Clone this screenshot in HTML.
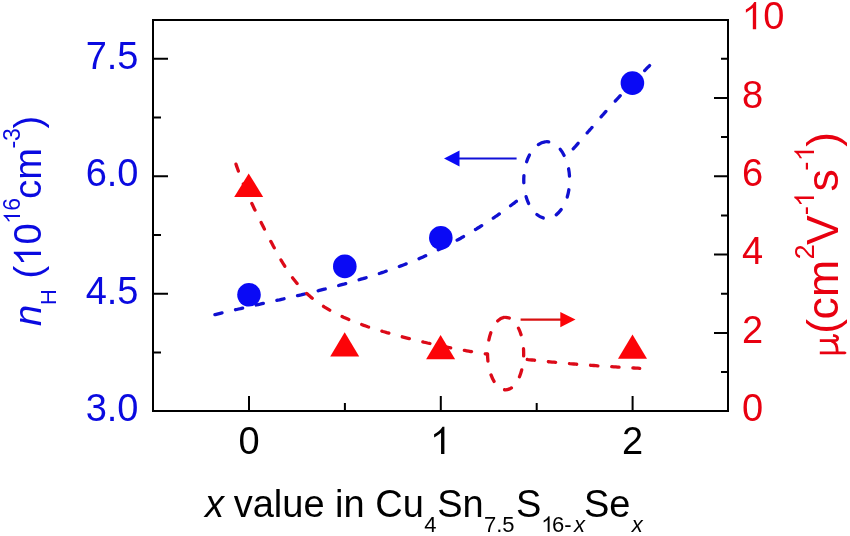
<!DOCTYPE html>
<html><head><meta charset="utf-8"><style>
html,body{margin:0;padding:0;background:#fff;}
body{width:850px;height:536px;overflow:hidden;}
svg{display:block;will-change:transform;}
text{font-family:"Liberation Sans",sans-serif;}
</style></head><body>
<svg width="850" height="536" viewBox="0 0 850 536">
<rect x="0" y="0" width="850" height="536" fill="#fff"/>
<g fill="none" stroke-width="3.3" stroke-dasharray="7.3 13.9" stroke-dashoffset="-1.65" stroke-linecap="round">
<path d="M213.3,315.0 L215.3,314.6 L217.2,314.1 L219.2,313.6 L221.1,313.1 L223.0,312.7 L225.0,312.2 L226.9,311.7 L228.9,311.3 L230.8,310.8 L232.8,310.4 L234.7,309.9 L236.7,309.5 L238.6,309.0 L240.6,308.6 L242.5,308.1 L244.5,307.7 L246.4,307.2 L248.4,306.8 L250.3,306.4 L252.3,305.9 L254.2,305.5 L256.2,305.0 L258.1,304.6 L260.1,304.2 L262.0,303.7 L264.0,303.3 L265.9,302.8 L267.9,302.4 L269.8,302.0 L271.8,301.5 L273.7,301.1 L275.7,300.7 L277.6,300.2 L279.6,299.8 L281.5,299.3 L283.5,298.9 L285.4,298.4 L287.4,298.0 L289.3,297.6 L291.3,297.1 L293.2,296.7 L295.2,296.2 L297.1,295.8 L299.1,295.3 L301.0,294.9 L303.0,294.4 L304.9,293.9 L306.9,293.5 L308.8,293.0 L310.8,292.5 L312.7,292.1 L314.7,291.6 L316.6,291.1 L318.5,290.7 L320.5,290.2 L322.4,289.7 L324.4,289.2 L326.3,288.7 L328.2,288.2 L330.2,287.7 L332.1,287.2 L334.1,286.7 L336.0,286.2 L337.9,285.7 L339.9,285.2 L341.8,284.7 L343.7,284.2 L345.6,283.6 L347.6,283.1 L349.5,282.6 L351.4,282.0 L353.3,281.5 L355.3,280.9 L357.2,280.4 L359.1,279.8 L361.0,279.2 L362.9,278.7 L364.9,278.1 L366.8,277.5 L368.7,276.9 L370.6,276.3 L372.5,275.7 L374.4,275.1 L376.3,274.5 L378.2,273.9 L380.1,273.3 L382.0,272.6 L383.9,272.0 L385.8,271.3 L387.7,270.7 L389.6,270.0 L391.5,269.4 L393.3,268.7 L395.2,268.0 L397.1,267.3 L399.0,266.6 L400.9,265.9 L402.7,265.2 L404.6,264.5 L406.5,263.8 L408.3,263.0 L410.2,262.3 L412.0,261.5 L413.9,260.8 L415.7,260.0 L417.6,259.3 L419.4,258.5 L421.2,257.7 L423.1,256.9 L424.9,256.1 L426.7,255.3 L428.6,254.4 L430.4,253.6 L432.2,252.8 L434.0,251.9 L435.8,251.0 L437.6,250.2 L439.4,249.3 L441.2,248.4 L443.0,247.5 L444.8,246.6 L446.6,245.7 L448.3,244.8 L450.1,243.9 L451.9,243.0 L453.7,242.0 L455.4,241.1 L457.2,240.1 L458.9,239.2 L460.7,238.2 L462.4,237.2 L464.2,236.2 L465.9,235.2 L467.6,234.2 L469.3,233.2 L471.1,232.2 L472.8,231.2 L474.5,230.1 L476.2,229.1 L477.9,228.0 L479.6,227.0 L481.3,225.9 L483.0,224.8 L484.7,223.8 L486.3,222.7 L488.0,221.6 L489.7,220.5 L491.4,219.4 L493.0,218.2 L494.7,217.1 L496.3,216.0 L498.0,214.9 L499.6,213.7 L501.2,212.5 L502.9,211.4 L504.5,210.2 L506.1,209.0 L507.7,207.9 L509.3,206.7 L510.9,205.5 L512.5,204.3 L514.1,203.1 L515.7,201.8 L517.3,200.6 L518.8,199.4 L520.4,198.1 L522.0,196.9 L523.5,195.6 L525.1,194.4 L526.6,193.1 L528.2,191.8 L529.7,190.5 L531.2,189.3 L532.8,188.0 L534.3,186.7 L535.8,185.3 L537.3,184.0 L538.8,182.7 L540.3,181.4 L541.8,180.0 L543.3,178.7 L544.7,177.4 L546.2,176.0 L547.7,174.6 L549.1,173.3 L550.6,171.9 L552.0,170.5 L553.5,169.1 L554.9,167.7 L556.3,166.3 L557.8,164.9 L559.2,163.5 L560.6,162.1 L562.0,160.7 L563.4,159.2 L564.8,157.8 L566.1,156.3 L567.5,154.9 L568.9,153.4 L570.3,152.0 L571.6,150.5 L573.0,149.0 L574.3,147.6 L575.7,146.1 L577.0,144.6 L578.3,143.1 L579.6,141.6 L581.0,140.1 L582.3,138.6 L583.6,137.1 L584.9,135.6 L586.2,134.1 L587.5,132.5 L588.8,131.0 L590.2,129.5 L591.5,128.0 L592.8,126.5 L594.1,125.0 L595.4,123.5 L596.7,122.0 L598.0,120.4 L599.3,118.9 L600.6,117.4 L601.9,115.9 L603.3,114.4 L604.6,112.9 L605.9,111.4 L607.2,109.9 L608.6,108.4 L609.9,106.9 L611.2,105.5 L612.6,104.0 L613.9,102.5 L615.3,101.0 L616.6,99.6 L618.0,98.1 L619.4,96.6 L620.7,95.2 L622.1,93.7 L623.5,92.3 L624.9,90.8 L626.2,89.4 L627.6,87.9 L629.0,86.5 L630.4,85.0 L631.8,83.6 L633.2,82.2 L634.6,80.7 L636.0,79.3 L637.4,77.9 L638.8,76.5 L640.2,75.0 L641.6,73.6 L643.0,72.2 L644.4,70.8 L645.8,69.4 L647.2,67.9 L648.7,66.5 L649.6,65.6" stroke="#1010D0"/>
<path d="M235.5,162.6 L236.1,164.5 L236.7,166.4 L237.4,168.3 L238.1,170.2 L238.7,172.1 L239.4,174.0 L240.1,175.8 L240.8,177.7 L241.6,179.6 L242.3,181.4 L243.0,183.3 L243.8,185.1 L244.6,187.0 L245.3,188.8 L246.1,190.7 L246.9,192.5 L247.7,194.3 L248.5,196.2 L249.3,198.0 L250.2,199.8 L251.0,201.6 L251.8,203.4 L252.7,205.3 L253.5,207.1 L254.4,208.9 L255.3,210.7 L256.1,212.5 L257.0,214.3 L257.9,216.1 L258.8,217.9 L259.7,219.6 L260.6,221.4 L261.5,223.2 L262.4,225.0 L263.3,226.8 L264.2,228.6 L265.1,230.3 L266.0,232.1 L266.9,233.9 L267.9,235.7 L268.8,237.4 L269.7,239.2 L270.6,241.0 L271.6,242.8 L272.5,244.5 L273.4,246.3 L274.4,248.1 L275.3,249.8 L276.3,251.6 L277.2,253.3 L278.2,255.1 L279.2,256.8 L280.2,258.6 L281.2,260.3 L282.2,262.0 L283.2,263.7 L284.3,265.4 L285.3,267.1 L286.4,268.8 L287.5,270.5 L288.6,272.2 L289.8,273.8 L290.9,275.4 L292.1,277.1 L293.3,278.7 L294.5,280.2 L295.7,281.8 L297.0,283.3 L298.3,284.9 L299.6,286.4 L301.0,287.8 L302.4,289.3 L303.8,290.7 L305.2,292.1 L306.7,293.4 L308.2,294.8 L309.7,296.1 L311.2,297.4 L312.8,298.7 L314.3,299.9 L315.9,301.1 L317.6,302.3 L319.2,303.4 L320.8,304.6 L322.5,305.7 L324.2,306.8 L325.9,307.8 L327.6,308.8 L329.3,309.9 L331.0,310.9 L332.8,311.8 L334.6,312.8 L336.3,313.7 L338.1,314.6 L339.9,315.5 L341.7,316.3 L343.5,317.2 L345.4,318.0 L347.2,318.8 L349.0,319.6 L350.9,320.4 L352.7,321.1 L354.6,321.9 L356.4,322.6 L358.3,323.3 L360.2,324.0 L362.1,324.7 L363.9,325.4 L365.8,326.0 L367.7,326.7 L369.6,327.3 L371.5,327.9 L373.4,328.5 L375.3,329.1 L377.2,329.7 L379.2,330.3 L381.1,330.9 L383.0,331.5 L384.9,332.0 L386.8,332.6 L388.8,333.1 L390.7,333.7 L392.6,334.2 L394.5,334.7 L396.5,335.3 L398.4,335.8 L400.3,336.3 L402.3,336.8 L404.2,337.3 L406.1,337.8 L408.1,338.3 L410.0,338.8 L411.9,339.3 L413.9,339.8 L415.8,340.2 L417.8,340.7 L419.7,341.2 L421.7,341.6 L423.6,342.1 L425.6,342.5 L427.5,343.0 L429.5,343.4 L431.4,343.8 L433.4,344.3 L435.3,344.7 L437.3,345.1 L439.2,345.5 L441.2,345.9 L443.2,346.3 L445.1,346.7 L447.1,347.1 L449.0,347.5 L451.0,347.9 L453.0,348.3 L454.9,348.6 L456.9,349.0 L458.9,349.4 L460.8,349.7 L462.8,350.1 L464.8,350.5 L466.7,350.8 L468.7,351.1 L470.7,351.5 L472.7,351.8 L474.6,352.1 L476.6,352.5 L478.6,352.8 L480.6,353.1 L482.5,353.4 L484.5,353.7 L486.5,354.0 L488.5,354.3 L490.4,354.6 L492.4,354.9 L494.4,355.2 L496.4,355.5 L498.4,355.8 L500.3,356.1 L502.3,356.3 L504.3,356.6 L506.3,356.9 L508.3,357.1 L510.2,357.4 L512.2,357.6 L514.2,357.9 L516.2,358.1 L518.2,358.4 L520.2,358.6 L522.2,358.9 L524.1,359.1 L526.1,359.3 L528.1,359.6 L530.1,359.8 L532.1,360.0 L534.1,360.2 L536.1,360.4 L538.1,360.7 L540.0,360.9 L542.0,361.1 L544.0,361.3 L546.0,361.5 L548.0,361.7 L550.0,361.9 L552.0,362.1 L554.0,362.2 L556.0,362.4 L558.0,362.6 L559.9,362.8 L561.9,363.0 L563.9,363.2 L565.9,363.3 L567.9,363.5 L569.9,363.7 L571.9,363.8 L573.9,364.0 L575.9,364.2 L577.9,364.3 L579.9,364.5 L581.9,364.6 L583.9,364.8 L585.9,364.9 L587.9,365.1 L589.8,365.2 L591.8,365.4 L593.8,365.5 L595.8,365.6 L597.8,365.8 L599.8,365.9 L601.8,366.1 L603.8,366.2 L605.8,366.3 L607.8,366.4 L609.8,366.6 L611.8,366.7 L613.8,366.8 L615.8,366.9 L617.8,367.1 L619.8,367.2 L621.8,367.3 L623.8,367.4 L625.8,367.5 L627.8,367.7 L629.8,367.8 L631.8,367.9 L633.8,368.0 L635.8,368.1 L637.8,368.2 L639.7,368.3" stroke="#DC0A18"/>
<path d="M546.7,141.7A23.47,38.41 0 0 0 546.7,218.5A23.47,38.41 0 0 0 546.7,141.7" fill="#fff" stroke="#1010D0"/>
<path d="M505.6,317.3A18.05,36.22 0 0 0 505.6,389.8A18.05,36.22 0 0 0 505.6,317.3" fill="#fff" stroke="#DC0A18"/>
</g>
<path d="M459,158.5H516.6" stroke="#1010D8" stroke-width="2.2"/>
<path d="M444,158.5L459.5,150.5L459.5,166.5Z" fill="#0A0AF5"/>
<path d="M520.6,319.6H561" stroke="#D81010" stroke-width="2.2"/>
<path d="M575.5,319.6L560.3,312L560.3,327.2Z" fill="#FC0408"/>
<g fill="#0A0AF5"><circle cx="249" cy="294.8" r="11.8"/><circle cx="344.8" cy="266.4" r="11.8"/><circle cx="440.8" cy="237.8" r="11.8"/><circle cx="632.4" cy="83.1" r="11.8"/></g>
<g fill="#FC0408"><path d="M248.7,173.5L263.2,197L234.2,197Z"/><path d="M344.7,332.2L359.2,356.5L330.2,356.5Z"/><path d="M440.6,335.1L455.1,359.3L426.1,359.3Z"/><path d="M632.5,334.4L647.0,358.8L618.0,358.8Z"/></g>
<rect x="153" y="20" width="575" height="391" fill="none" stroke="#000" stroke-width="2"/>
<path d="M153,293.8H168 M153,176.3H168 M153,58.8H168 M153,352.6H161 M153,235.1H161 M153,117.6H161 M728,333.0H714 M728,254.6H714 M728,176.3H714 M728,98.0H714 M728,372.1H721 M728,293.8H721 M728,215.5H721 M728,137.1H721 M728,58.8H721 M249.0,411V396 M440.8,411V396 M632.6,411V396 M344.9,411V403 M536.7,411V403" stroke="#000" stroke-width="2" fill="none"/>
<g fill="#0A0AE0" font-size="38"><text x="138.5" y="68.7" text-anchor="end">7.5</text><text x="138.5" y="186.2" text-anchor="end">6.0</text><text x="138.5" y="303.7" text-anchor="end">4.5</text><text x="138.5" y="421.2" text-anchor="end">3.0</text></g>
<g fill="#E80010" font-size="38"><text x="742" y="107.5">8</text><text x="742" y="185.8">6</text><text x="742" y="264.1">4</text><text x="742" y="342.5">2</text><text x="742" y="420.8">0</text><path d="M372.6,0L284.7,0L284.7,-560C240,-518 160,-463 102,-433L102,-518C190,-558 280,-640 322.8,-715.8L372.6,-715.8Z" transform="translate(742.00,29.15) scale(0.0380)"/><text x="763.13" y="29.2">0</text></g>
<g fill="#000" font-size="38"><text x="249.0" y="454" text-anchor="middle">0</text><text x="632.6" y="454" text-anchor="middle">2</text><path d="M372.6,0L284.7,0L284.7,-560C240,-518 160,-463 102,-433L102,-518C190,-558 280,-640 322.8,-715.8L372.6,-715.8Z" transform="translate(430.24,454.00) scale(0.0380)"/></g>
<g fill="#000" font-size="38"><text><tspan x="205" y="517" font-style="italic">x</tspan><tspan x="233.7" y="517">value in Cu</tspan><tspan x="424.2" y="532" font-size="22">4</tspan><tspan x="437.2" y="517">Sn</tspan><tspan x="483.9" y="532" font-size="22">7.5</tspan><tspan x="516.1" y="517">S</tspan><tspan x="552" y="532" font-size="22">6-</tspan><tspan x="574" y="532" font-size="22" font-style="italic">x</tspan><tspan x="584" y="517">Se</tspan><tspan x="631.8" y="532" font-size="22" font-style="italic">x</tspan></text><path d="M372.6,0L284.7,0L284.7,-560C240,-518 160,-463 102,-433L102,-518C190,-558 280,-640 322.8,-715.8L372.6,-715.8Z" transform="translate(541.40,532.00) scale(0.0220)"/></g>
<g transform="translate(41,326) rotate(-90)" fill="#0A0AE0" font-size="38"><text><tspan x="0" y="0" font-style="italic">n</tspan><tspan x="21.1" y="14.5" font-size="22">H</tspan><tspan x="47.6" y="0">(</tspan><tspan x="81.4" y="0">0</tspan><tspan x="115.3" y="-21" font-size="23">6</tspan><tspan x="127.2" y="0">cm</tspan><tspan x="177.4" y="-21" font-size="23">-3</tspan><tspan x="197.6" y="0">)</tspan></text><path d="M372.6,0L284.7,0L284.7,-560C240,-518 160,-463 102,-433L102,-518C190,-558 280,-640 322.8,-715.8L372.6,-715.8Z" transform="translate(60.20,0.00) scale(0.0380)"/><path d="M372.6,0L284.7,0L284.7,-560C240,-518 160,-463 102,-433L102,-518C190,-558 280,-640 322.8,-715.8L372.6,-715.8Z" transform="translate(102.50,-21.00) scale(0.0230)"/></g>
<g transform="translate(838,355) rotate(-90)" fill="#E80010"><path d="M2.2,-18.2V7 M14.3,-18.2V-3.5Q14.3,-0.2 17,-0.4Q19.3,-0.8 19.6,-5 M13.9,-6.5Q12.5,-0.6 3,-0.8" fill="none" stroke="#E80010" stroke-width="2.8"/>
<path d="M0.8,7 Q2.2,10 3.6,7Z"/>
<text font-size="44.5"><tspan x="21.3" y="0">(</tspan><tspan x="35.6">c</tspan><tspan x="57.9">m</tspan><tspan x="95.5" y="-24" font-size="27.5">2</tspan><tspan x="110.1" y="0">V</tspan><tspan x="139.7" y="-24" font-size="27.5">-</tspan><tspan x="163.4" y="0">s</tspan><tspan x="184.2" y="-24" font-size="27.5">-</tspan><tspan x="208.3" y="0">)</tspan></text>
<path d="M372.6,0L284.7,0L284.7,-560C240,-518 160,-463 102,-433L102,-518C190,-558 280,-640 322.8,-715.8L372.6,-715.8Z" transform="translate(148.20,-24.00) scale(0.0275)"/><path d="M372.6,0L284.7,0L284.7,-560C240,-518 160,-463 102,-433L102,-518C190,-558 280,-640 322.8,-715.8L372.6,-715.8Z" transform="translate(194.00,-24.00) scale(0.0275)"/></g>
</svg>
</body></html>
